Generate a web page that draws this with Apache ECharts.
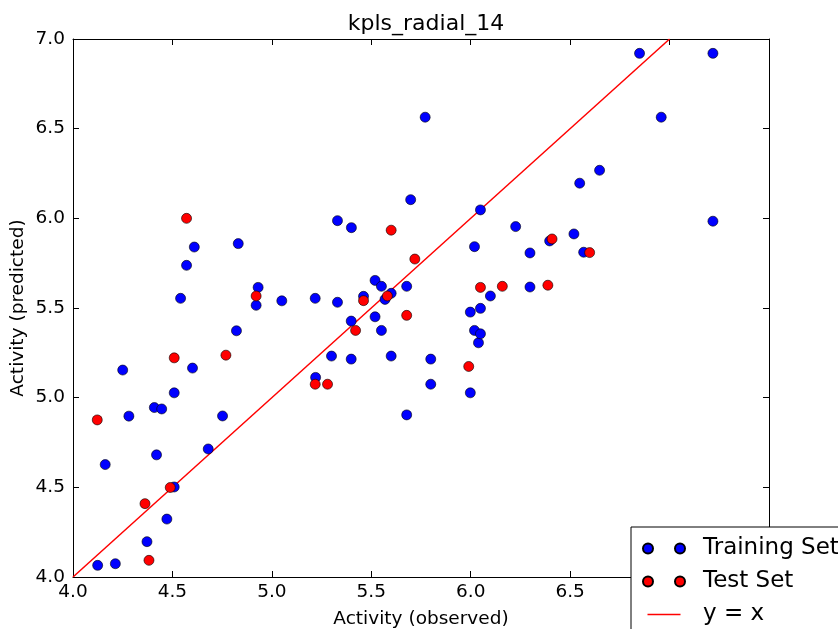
<!DOCTYPE html>
<html><head><meta charset="utf-8">
<script src="https://cdn.jsdelivr.net/npm/echarts@6/dist/echarts.min.js"></script>
<style>html,body{margin:0;padding:0;background:#fff}#c{width:838px;height:629px}</style>
</head><body><div id="c"></div>
<script>
const trainObserved = [4.124,4.213,4.162,4.250,4.281,4.372,4.409,4.420,4.446,4.472,4.509,4.509,4.541,4.571,4.601,4.610,4.680,4.752,4.822,4.831,4.921,4.931,5.050,5.218,5.220,5.300,5.330,5.330,5.399,5.399,5.400,5.461,5.519,5.519,5.551,5.551,5.569,5.600,5.600,5.678,5.678,5.698,5.771,5.799,5.799,5.998,5.998,6.019,6.019,6.039,6.049,6.049,6.049,6.099,6.226,6.298,6.298,6.397,6.519,6.548,6.568,6.648,6.849,6.958,7.218,7.218];
const trainPredicted = [4.065,4.074,4.627,5.154,4.897,4.197,4.945,4.681,4.937,4.323,4.502,5.027,5.554,5.738,5.165,5.840,4.714,4.898,5.373,5.859,5.515,5.615,5.540,5.554,5.113,5.232,5.532,5.987,5.215,5.427,5.948,5.565,5.654,5.451,5.621,5.375,5.548,5.582,5.232,5.621,4.904,6.104,6.564,5.215,5.075,5.477,5.027,5.842,5.375,5.306,6.047,5.498,5.356,5.567,5.954,5.807,5.617,5.874,5.913,6.196,5.811,6.268,6.920,6.564,6.920,5.984];
const testObserved = [4.122,4.362,4.382,4.489,4.509,4.571,4.769,4.921,5.218,5.280,5.421,5.461,5.581,5.600,5.678,5.719,5.990,6.049,6.159,6.388,6.409,6.598];
const testPredicted = [4.876,4.409,4.093,4.499,5.222,6.000,5.237,5.567,5.075,5.075,5.375,5.541,5.567,5.934,5.459,5.773,5.174,5.615,5.621,5.627,5.885,5.809];
const identityLine = [4.0, 7.0];
const xTicks = [4.0,4.5,5.0,5.5,6.0,6.5,7.0,7.5];
const yTicks = [4.0,4.5,5.0,5.5,6.0,6.5,7.0];

const zip = (a,b)=>a.map((v,i)=>[v,b[i]]);
const FONT = 'DejaVu Sans';
const FS = 18.5;
const chart = echarts.init(document.getElementById('c'), null, {renderer:'canvas'});
const twoDots = 'path://M5,5m-5,0a5,5 0 1,0 10,0a5,5 0 1,0 -10,0M37,5m-5,0a5,5 0 1,0 10,0a5,5 0 1,0 -10,0';
const lineIcon = 'path://M0,0L0.01,0L0.01,0.01L0,0.01ZM4.5,4.3L37.5,4.3L37.5,5.7L4.5,5.7ZM41.99,9.99L42,9.99L42,10L41.99,10Z';
const axisCommon = {
  type:'value', interval:0.5,
  axisLine:{show:true, lineStyle:{color:'#000', width:1}},
  axisTick:{show:true, inside:true, length:6, lineStyle:{color:'#000'}},
  splitLine:{show:false}
};
chart.setOption({
  animation:false,
  backgroundColor:'#fff',
  title:{text:'kpls_radial_14', left:421, textAlign:'center', top:8,
    textStyle:{fontFamily:FONT, fontSize:22, fontWeight:'normal', color:'#000'}},
  grid:{left:73, right:69, top:39, bottom:52, containLabel:false, outerBoundsMode:'none'},
  xAxis:[
    Object.assign({}, axisCommon, {min:xTicks[0], max:xTicks[xTicks.length-1], position:'bottom',
      name:'Activity (observed)', nameLocation:'middle', nameGap:33, nameMoveOverlap:false,
      nameTextStyle:{fontFamily:FONT, fontSize:FS, color:'#000'},
      axisLabel:{fontFamily:FONT, fontSize:FS, color:'#000', margin:6, formatter:v=>v.toFixed(1)}}),
    Object.assign({}, axisCommon, {min:xTicks[0], max:xTicks[xTicks.length-1], position:'top', axisLabel:{show:false}})
  ],
  yAxis:[
    Object.assign({}, axisCommon, {min:yTicks[0], max:yTicks[yTicks.length-1], position:'left',
      name:'Activity (predicted)', nameLocation:'middle', nameGap:45, nameMoveOverlap:false,
      nameTextStyle:{fontFamily:FONT, fontSize:FS, color:'#000'},
      axisLabel:{fontFamily:FONT, fontSize:FS, color:'#000', margin:8, formatter:v=>v.toFixed(1)}}),
    Object.assign({}, axisCommon, {min:yTicks[0], max:yTicks[yTicks.length-1], position:'right', axisLabel:{show:false}})
  ],
  legend:{
    orient:'vertical', left:631, top:527, height:200, width:400, z:20,
    backgroundColor:'#fff', borderColor:'#000', borderWidth:1, borderRadius:0,
    padding:[10,200,10,11], itemGap:10, itemWidth:42, itemHeight:10,
    textStyle:{fontFamily:FONT, fontSize:23, color:'#000', padding:[0,0,0,13]},
    data:[
      {name:'Training Set', icon:twoDots},
      {name:'Test Set', icon:twoDots},
      {name:'y = x', icon:lineIcon}
    ]
  },
  series:[
    {name:'y = x', type:'line', data:zip(identityLine, identityLine), showSymbol:false, symbol:'none',
      lineStyle:{color:'#ff0000', width:1.5}, itemStyle:{color:'#ff0000'}, z:3},
    {name:'Training Set', type:'scatter', data:zip(trainObserved, trainPredicted), symbolSize:10,
      itemStyle:{color:'#0000ff', borderColor:'#000', borderWidth:0.6, opacity:1}, z:4},
    {name:'Test Set', type:'scatter', data:zip(testObserved, testPredicted), symbolSize:10,
      itemStyle:{color:'#ff0000', borderColor:'#000', borderWidth:0.6, opacity:1}, z:5}
  ]
});
</script></body></html>
